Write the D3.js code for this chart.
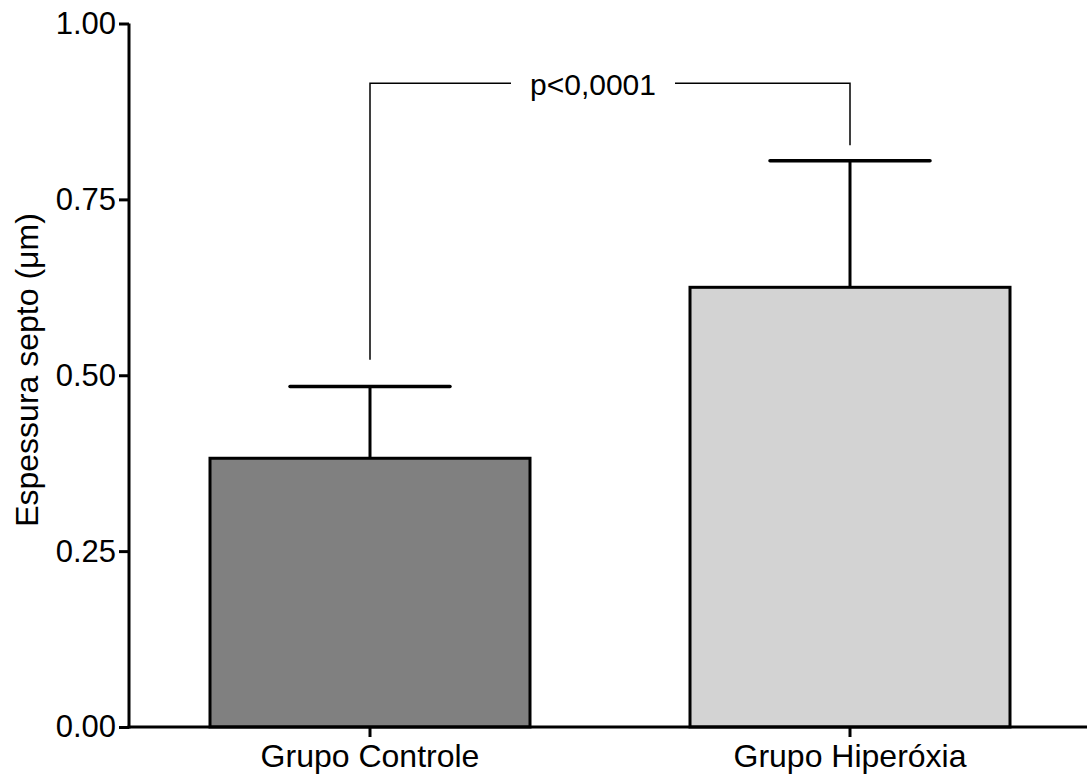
<!DOCTYPE html>
<html>
<head>
<meta charset="utf-8">
<script src="https://cdn.jsdelivr.net/npm/d3@7"></script>
<style>
  html, body { margin: 0; padding: 0; background: #fff; }
  svg { display: block; }
  text { font-family: "Liberation Sans", Arial, sans-serif; fill: #000; }
</style>
</head>
<body>
<svg id="chart" width="1087" height="776"></svg>
<script>
const categories = ["Grupo Controle", "Grupo Hiperóxia"];
const means = [0.382, 0.625];
const errors = [0.102, 0.180];
const barColors = ["#808080", "#d3d3d3"];
const yTicks = [0, 0.25, 0.5, 0.75, 1.0];
const yLabel = "Espessura septo (\u03bcm)";
// significance bracket: [top level, left leg bottom, right leg bottom]
const bracketLevels = [0.915, 0.522, 0.827];
const bracketLabel = "p<0,0001";

const svg = d3.select("#chart");
const x = d3.scaleBand().domain(categories).range([130, 1090]).paddingInner(1/3).paddingOuter(1/6);
const y = d3.scaleLinear().domain([0, 1]).range([727, 23.5]);

// bars
svg.selectAll("rect.bar").data(categories).enter().append("rect")
  .attr("class", "bar")
  .attr("x", d => x(d))
  .attr("y", (d, i) => y(means[i]))
  .attr("width", x.bandwidth())
  .attr("height", (d, i) => y(0) - y(means[i]))
  .attr("fill", (d, i) => barColors[i])
  .attr("stroke", "#000")
  .attr("stroke-width", 3);

// error bars
const capHalf = x.bandwidth() / 4;
categories.forEach((c, i) => {
  const cx = x(c) + x.bandwidth() / 2;
  svg.append("line").attr("x1", cx).attr("x2", cx)
    .attr("y1", y(means[i])).attr("y2", y(means[i] + errors[i]))
    .attr("stroke", "#000").attr("stroke-width", 3);
  svg.append("line").attr("x1", cx - capHalf).attr("x2", cx + capHalf)
    .attr("y1", y(means[i] + errors[i])).attr("y2", y(means[i] + errors[i]))
    .attr("stroke", "#000").attr("stroke-width", 3.5).attr("stroke-linecap", "round");
});

// axes
const yAxis = svg.append("g").attr("transform", "translate(129,0)")
  .call(d3.axisLeft(y).tickValues(yTicks).tickFormat(d3.format(".2f")).tickSize(10).tickPadding(3));
const xAxis = svg.append("g").attr("transform", "translate(0,727)")
  .call(d3.axisBottom(x).tickSize(10).tickPadding(6));
[yAxis, xAxis].forEach(g => {
  g.selectAll("path.domain").attr("stroke", "#000").attr("stroke-width", 3);
  g.selectAll(".tick line").attr("stroke", "#000").attr("stroke-width", 3);
  g.selectAll("text").style("font-family", "'Liberation Sans', Arial, sans-serif").attr("fill", "#000");
});
yAxis.selectAll("text").style("font-size", "31px");
xAxis.selectAll("text").style("font-size", "32px");
yAxis.select("path.domain").attr("d", `M0,${y(1)}V${y(0) + 1.5}`);
xAxis.select("path.domain").attr("d", `M127.5,0H1087`);
xAxis.selectAll(".tick text").attr("dy", null).attr("y", 40);

// y label
svg.append("text")
  .attr("transform", `translate(38,370) rotate(-90)`)
  .attr("text-anchor", "middle")
  .style("font-size", "32px")
  .text(yLabel);

// significance bracket
const lx = x(categories[0]) + x.bandwidth() / 2;
const rx = x(categories[1]) + x.bandwidth() / 2;
const mid = (lx + rx) / 2 - 17;
const gapHalf = 82;
svg.append("path")
  .attr("d", `M${lx},${y(bracketLevels[1])}V${y(bracketLevels[0])}H${mid - gapHalf}`)
  .attr("fill", "none").attr("stroke", "#000").attr("stroke-width", 1.5);
svg.append("path")
  .attr("d", `M${mid + gapHalf},${y(bracketLevels[0])}H${rx}V${y(bracketLevels[2])}`)
  .attr("fill", "none").attr("stroke", "#000").attr("stroke-width", 1.5);
svg.append("text")
  .attr("x", mid).attr("y", y(bracketLevels[0]) + 12)
  .attr("text-anchor", "middle")
  .style("font-size", "30px")
  .text(bracketLabel);
</script>
</body>
</html>
